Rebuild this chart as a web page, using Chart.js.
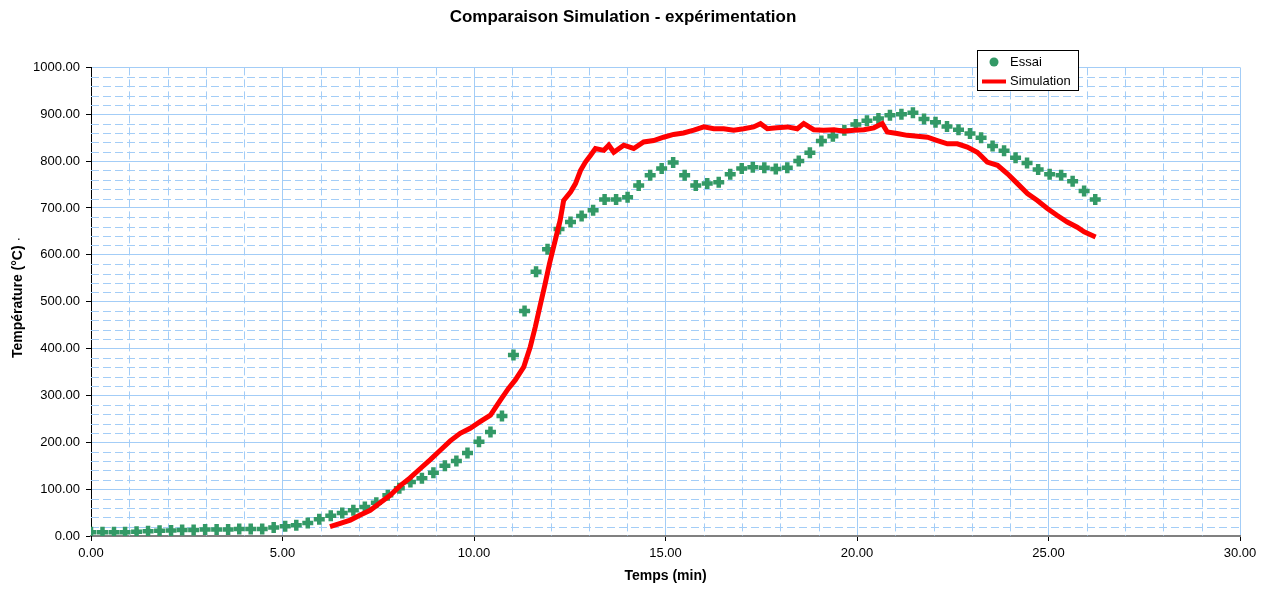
<!DOCTYPE html>
<html>
<head>
<meta charset="utf-8">
<script src="https://cdn.jsdelivr.net/npm/chart.js@4.4.0/dist/chart.umd.min.js"></script>
<style>
body { margin: 0; background: #fff; }
</style>
</head>
<body>
<canvas id="graphique" width="1267" height="589"></canvas>
<script>
// Essai : mesures (temps en min, température en °C)
const tempsEssai = [0.00, 0.30, 0.60, 0.89, 1.19, 1.49, 1.79, 2.09, 2.38, 2.68, 2.98, 3.28, 3.58, 3.87, 4.17, 4.47, 4.77, 5.07, 5.36, 5.66,
	5.96, 6.26, 6.56, 6.85, 7.15, 7.45, 7.75, 8.05, 8.34, 8.64, 8.94, 9.24, 9.54, 9.83, 10.13, 10.43, 10.73, 11.03, 11.32, 11.62,
	11.92, 12.22, 12.52, 12.81, 13.11, 13.41, 13.71, 14.01, 14.30, 14.60, 14.90, 15.20, 15.50, 15.79, 16.09, 16.39, 16.69, 16.99, 17.28, 17.58,
	17.88, 18.18, 18.48, 18.77, 19.07, 19.37, 19.67, 19.97, 20.26, 20.56, 20.86, 21.16, 21.46, 21.75, 22.05, 22.35, 22.65, 22.95, 23.24, 23.54,
	23.84, 24.14, 24.44, 24.73, 25.03, 25.33, 25.63, 25.93, 26.22];
const essai = [8, 8, 8, 8, 9, 10, 11, 12, 13, 13, 14, 14, 14, 15, 15, 15, 18, 21, 23, 28,
	36, 43, 49, 55, 62, 71, 87, 102, 115, 123, 135, 150, 160, 177, 201, 222, 256, 386, 480, 564,
	612, 655, 670, 683, 695, 718, 718, 723, 748, 770, 784, 797, 770, 748, 752, 755, 772, 784, 787, 786,
	783, 786, 800, 818, 843, 853, 866, 878, 886, 891, 898, 900, 903, 890, 883, 874, 867, 859, 850, 832,
	822, 807, 796, 782, 772, 770, 757, 736, 718];

// Simulation
const tempsSimu = [6.24, 6.51, 6.77, 7.03, 7.29, 7.55, 7.81, 8.07, 8.33, 8.60, 8.86, 9.12, 9.38, 9.64, 9.90, 10.16, 10.43, 10.69, 10.90, 11.08,
	11.30, 11.47, 11.60, 11.73, 11.86, 11.97, 12.12, 12.25, 12.34, 12.52, 12.65, 12.78, 12.91, 13.04, 13.17, 13.39, 13.52, 13.65, 13.91, 14.17,
	14.43, 14.69, 14.95, 15.21, 15.47, 15.74, 16.00, 16.26, 16.52, 16.78, 17.04, 17.30, 17.48, 17.66, 17.91, 18.18, 18.44, 18.61, 18.87, 19.13,
	19.40, 19.66, 19.92, 20.18, 20.44, 20.66, 20.79, 21.05, 21.31, 21.58, 21.84, 22.10, 22.36, 22.62, 22.88, 23.14, 23.23, 23.40, 23.67, 23.93,
	24.19, 24.45, 24.71, 24.97, 25.23, 25.49, 25.75, 25.93, 26.23];
const simulation = [20, 27, 34, 45, 55, 71, 87, 107, 124, 144, 163, 183, 203, 219, 230, 244, 258, 290, 315, 333,
	361, 404, 446, 493, 539, 581, 631, 674, 716, 734, 752, 780, 798, 812, 827, 823, 834, 819, 834, 827,
	841, 844, 851, 857, 860, 866, 873, 869, 869, 866, 869, 873, 880, 869, 871, 873, 869, 880, 867, 866,
	867, 864, 866, 867, 871, 880, 862, 859, 855, 853, 851, 844, 837, 837, 830, 819, 812, 798, 791, 773,
	752, 731, 716, 699, 684, 670, 659, 649, 638];

// Bornes des axes
const xMin = 0, xMax = 30, xPas = 5, xPasMineur = 1;
const yMin = 0, yMax = 1000, yPas = 100, yPasMineur = 20;

const police = "'Liberation Sans', Arial, sans-serif";
const bleuGrille = '#a3cdf7';

// Quadrillage secondaire en pointillés (pas de 1 min et de 20 °C)
const grilleMineure = {
	id: 'grilleMineure',
	beforeDatasetsDraw(chart) {
		const c = chart.ctx;
		const a = chart.chartArea;
		const sx = chart.scales.x, sy = chart.scales.y;
		c.save();
		c.strokeStyle = bleuGrille;
		c.lineWidth = 1;
		c.setLineDash([8, 4]);
		for (let v = xMin + xPasMineur; v < xMax; v += xPasMineur) {
			if (v % xPas == 0) continue;
			const px = Math.round(sx.getPixelForValue(v)) + 0.5;
			c.beginPath();
			c.moveTo(px, a.top);
			c.lineTo(px, a.bottom);
			c.stroke();
		}
		for (let v = yMin + yPasMineur; v < yMax; v += yPasMineur) {
			if (v % yPas == 0) continue;
			const py = Math.round(sy.getPixelForValue(v)) + 0.5;
			c.beginPath();
			c.moveTo(a.left, py);
			c.lineTo(a.right, py);
			c.stroke();
		}
		c.restore();
	}
};

// Légende encadrée comme dans Excel
const legendeBoite = {
	id: 'legendeBoite',
	afterDraw(chart) {
		const c = chart.ctx;
		c.save();
		c.fillStyle = '#fff';
		c.fillRect(977, 51, 101, 40);
		c.strokeStyle = '#000';
		c.lineWidth = 1;
		c.strokeRect(977.5, 50.5, 101, 40);
		c.fillStyle = '#339966';
		c.beginPath();
		c.arc(994, 62, 4.5, 0, Math.PI * 2);
		c.fill();
		c.strokeStyle = '#ff0000';
		c.lineWidth = 4;
		c.beginPath();
		c.moveTo(982, 81.5);
		c.lineTo(1006, 81.5);
		c.stroke();
		c.fillStyle = '#000';
		c.font = '13px ' + police;
		c.textBaseline = 'middle';
		c.fillText('Essai', 1010, 62);
		c.fillText('Simulation', 1010, 81.5);
		// petit point isolé à gauche du graphique d'origine
		c.fillText('.', 17, 236);
		c.restore();
	}
};

let ctx = document.getElementById('graphique').getContext('2d');

let graphique = new Chart(ctx, {
	type: 'scatter',
	data: {
		datasets: [{
			label: 'Essai',
			data: tempsEssai.map((t, i) => ({ x: t, y: essai[i] })),
			showLine: false,
			pointStyle: 'cross',
			pointRadius: 5.5,
			borderWidth: 4.5,
			borderColor: '#339966',
			backgroundColor: '#339966',
			order: 2
		}, {
			label: 'Simulation',
			data: tempsSimu.map((t, i) => ({ x: t, y: simulation[i] })),
			showLine: true,
			pointRadius: 0,
			borderWidth: 5,
			borderColor: '#ff0000',
			backgroundColor: '#ff0000',
			tension: 0,
			order: 1
		}]
	},
	options: {
		responsive: false,
		animation: false,
		devicePixelRatio: 1,
		layout: { padding: { left: 6, right: 27, top: 0, bottom: 0 } },
		plugins: {
			legend: { display: false },
			tooltip: { enabled: false },
			title: {
				display: true,
				text: 'Comparaison Simulation - expérimentation',
				color: '#000',
				font: { family: police, size: 17, weight: 'bold' },
				padding: { top: 7, bottom: 40 }
			}
		},
		scales: {
			x: {
				type: 'linear',
				position: 'bottom',
				min: xMin, max: xMax,
				ticks: {
					stepSize: xPas,
					color: '#000',
					font: { family: police, size: 13 },
					padding: 5,
					maxRotation: 0,
					callback: v => v.toFixed(2)
				},
				grid: { color: bleuGrille, lineWidth: 1, tickColor: '#000', tickLength: 5 },
				border: { color: '#808080', width: 2 },
				title: {
					display: true,
					text: 'Temps (min)',
					color: '#000',
					font: { family: police, size: 14, weight: 'bold' },
					padding: { top: 4, bottom: 4 }
				},
				afterFit: s => { s.height = 53; }
			},
			y: {
				type: 'linear',
				position: 'left',
				min: yMin, max: yMax,
				ticks: {
					stepSize: yPas,
					color: '#000',
					font: { family: police, size: 13 },
					padding: 6,
					callback: v => v.toFixed(2)
				},
				grid: { color: bleuGrille, lineWidth: 1, tickColor: '#000', tickLength: 5 },
				border: { color: '#000', width: 1 },
				title: {
					display: true,
					text: 'Température (°C)',
					color: '#000',
					font: { family: police, size: 14, weight: 'bold' },
					padding: { top: 4, bottom: 4 }
				},
				afterFit: s => { s.width = 85; }
			}
		}
	},
	plugins: [grilleMineure, legendeBoite]
});
</script>
</body>
</html>
